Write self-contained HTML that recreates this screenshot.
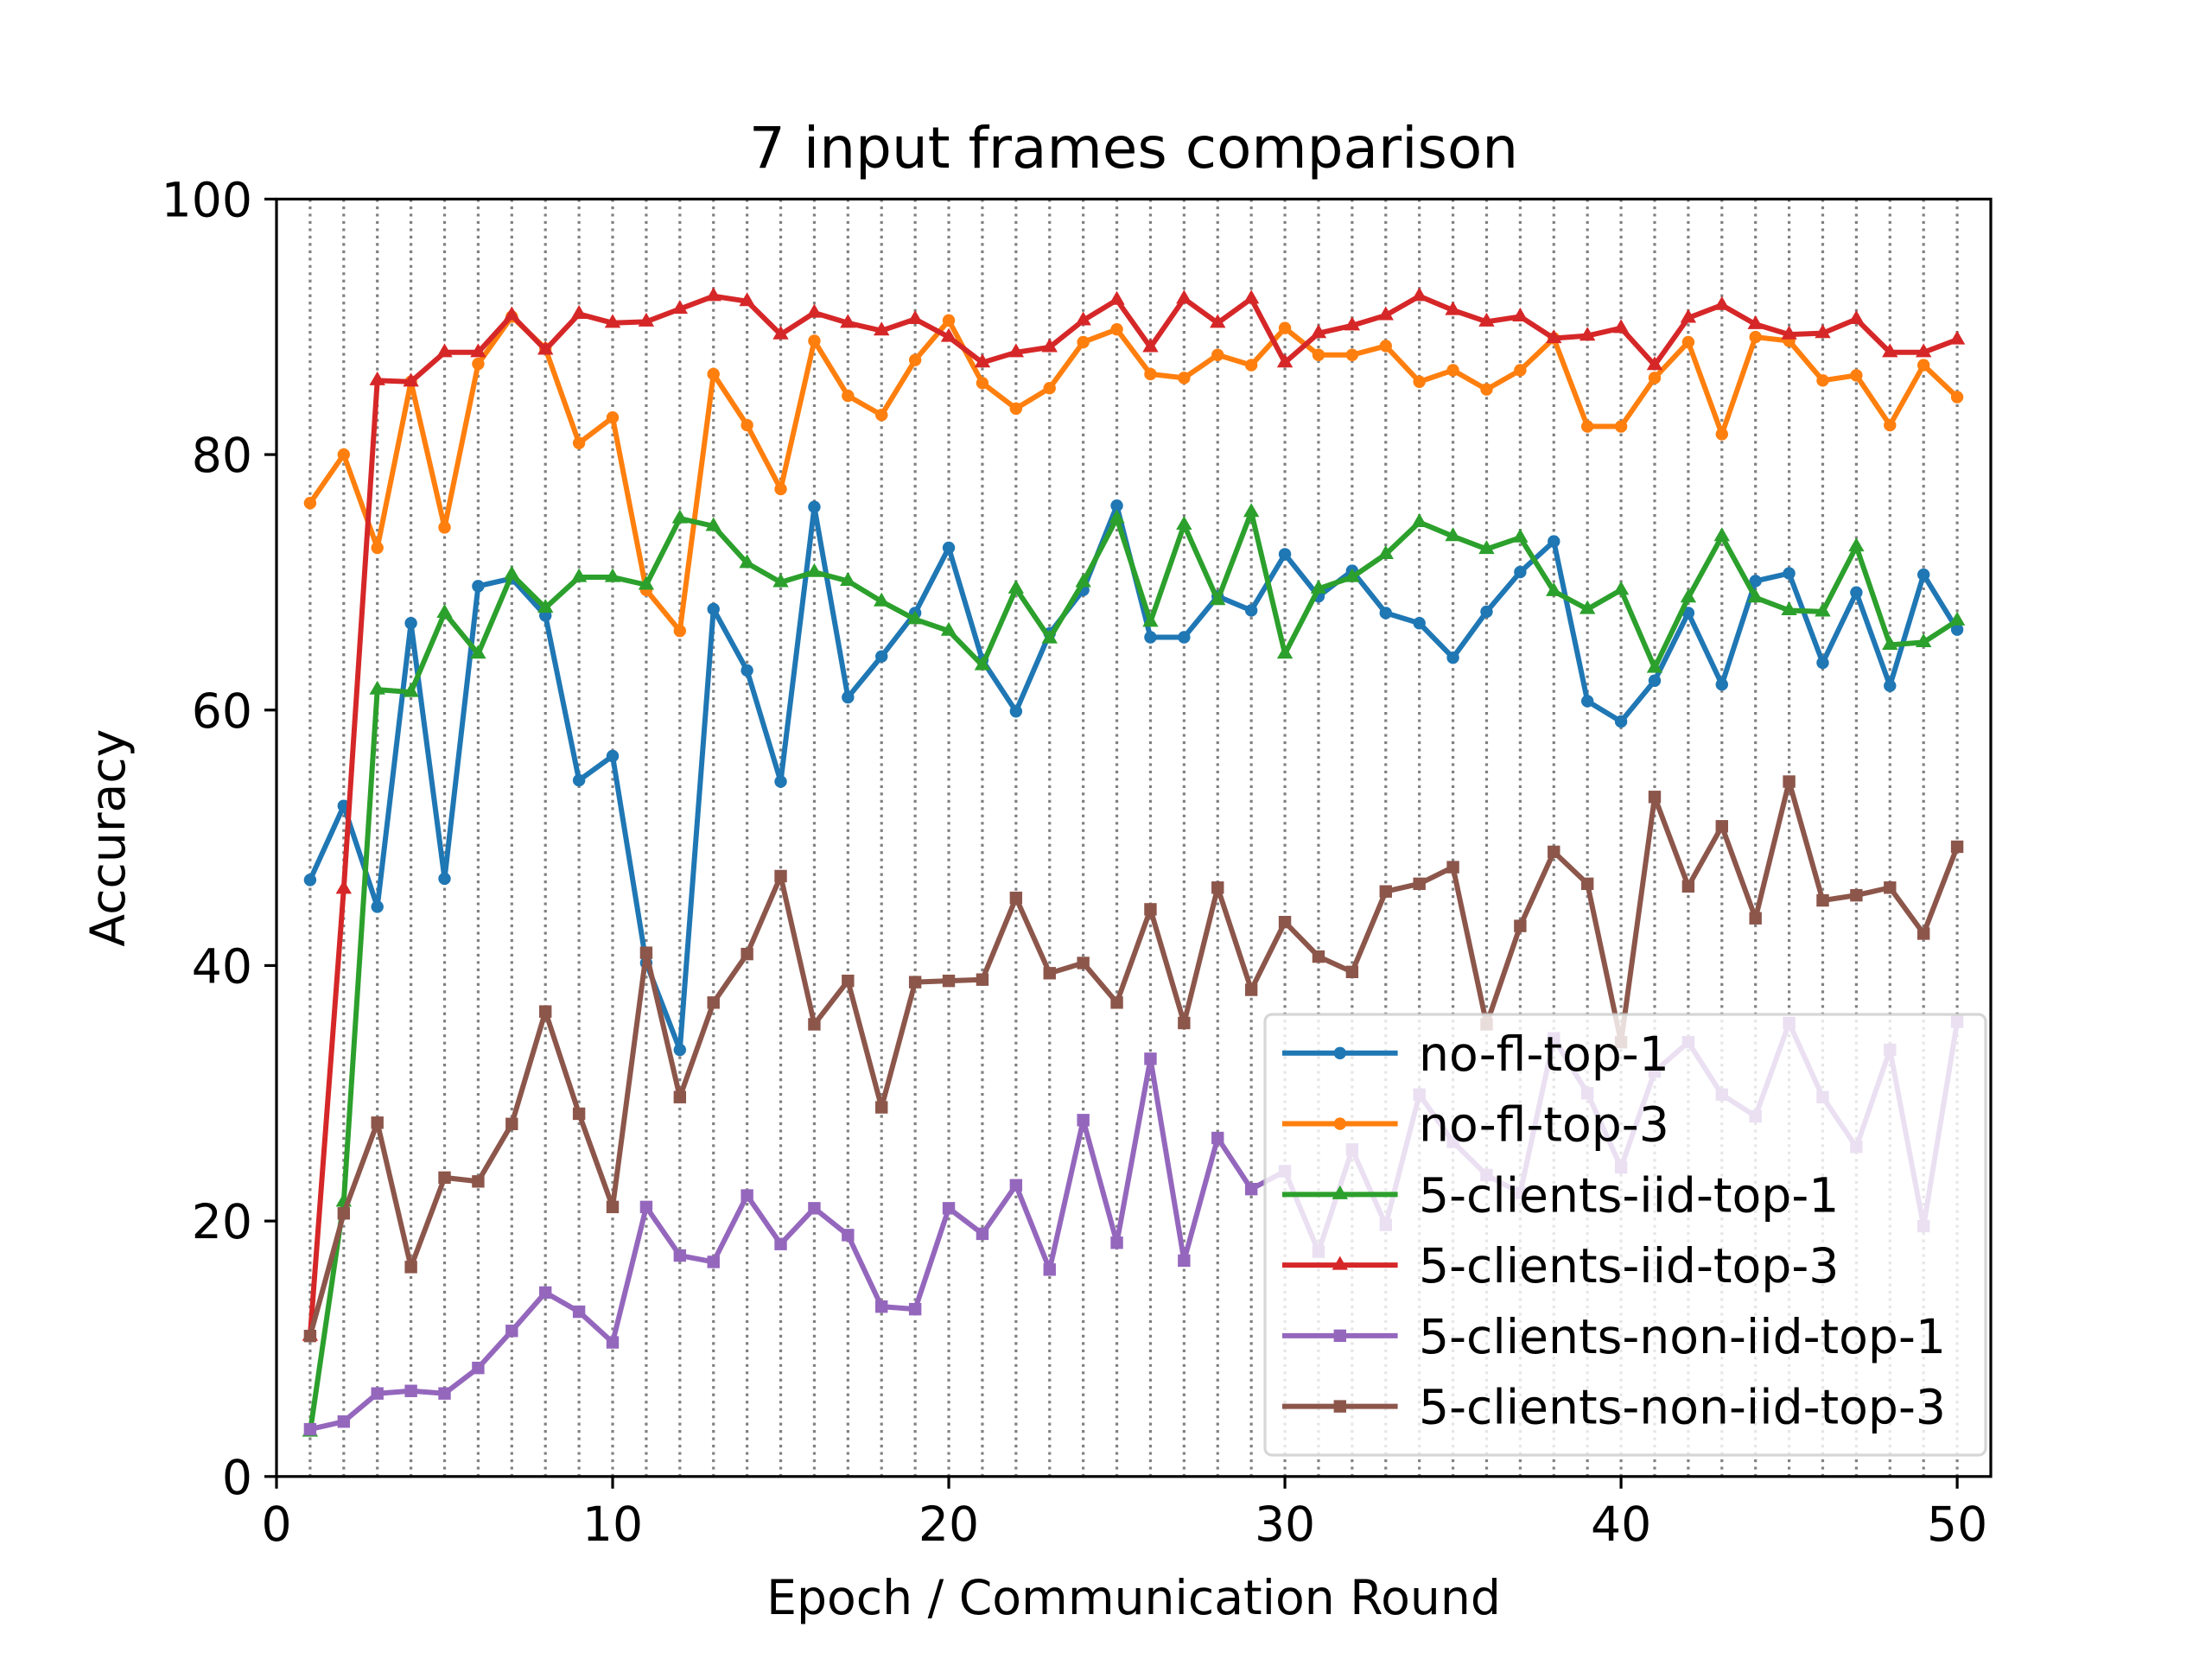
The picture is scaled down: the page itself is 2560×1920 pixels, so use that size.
<!DOCTYPE html>
<html><head><meta charset="utf-8"><style>
html,body{margin:0;padding:0;background:#fff;}
svg{display:block;font-family:"DejaVu Sans","Liberation Sans",sans-serif;}
</style></head><body>
<svg id="chart" width="2560" height="1920" viewBox="0 0 640 480" xmlns="http://www.w3.org/2000/svg">
<rect width="640" height="480" fill="#fff"/>
<g id="grid"></g>
<g id="series"></g>
<rect x="80" y="57.6" width="496" height="369.6" fill="none" stroke="#000" stroke-width="0.8"/>
<g id="ticks"></g>
<text x="328" y="48.5" font-size="16.5" text-anchor="middle">7 input frames comparison</text>
<text x="328" y="467" font-size="13.8" text-anchor="middle">Epoch / Communication Round</text>
<text x="0" y="0" font-size="13.8" text-anchor="middle" transform="translate(36,242.4) rotate(-90)">Accuracy</text>
<g id="legend"></g>
</svg>
<script>
const epochs = Array.from({length:50},(_,i)=>i+1);
const noFlTop1 = [46.7,52.5,44.6,66.8,46.8,69.7,70.3,67.4,54.5,56.4,40.2,33.4,67.9,63.1,54.4,75.9,61.0,64.2,67.6,72.7,63.9,59.9,66.0,69.4,76.0,65.7,65.7,68.9,67.8,72.2,68.9,70.9,67.6,66.8,64.1,67.7,70.8,73.2,60.7,59.1,62.3,67.6,62.0,70.1,70.7,63.7,69.2,61.9,70.6,66.3];
const noFlTop3 = [76.2,80.0,72.7,85.7,74.3,87.1,90.8,88.3,80.9,82.9,69.4,66.2,86.3,82.3,77.3,88.9,84.6,83.1,87.4,90.5,85.6,83.6,85.2,88.8,89.8,86.3,86.0,87.8,87.0,89.9,87.8,87.8,88.5,85.7,86.6,85.1,86.6,89.1,82.2,82.2,86.0,88.8,81.6,89.2,88.9,85.8,86.2,82.3,87.0,84.5];
const iidTop1 = [3.5,21.5,61.6,61.4,67.6,64.4,70.6,68.0,70.4,70.4,69.8,75.0,74.4,71.5,70.0,70.8,70.1,68.5,67.1,66.2,63.5,69.5,65.6,70.0,75.0,66.9,74.5,68.6,75.5,64.4,69.5,70.4,72.2,74.7,73.6,72.6,73.5,69.3,67.9,69.4,63.3,68.8,73.6,68.8,67.8,67.7,72.8,65.1,65.3,67.0];
const iidTop3 = [11.0,46.0,85.8,85.7,88.0,88.0,90.9,88.2,91.0,90.3,90.4,91.4,92.4,92.0,89.4,91.1,90.3,89.7,90.6,89.2,87.2,88.0,88.4,90.5,92.1,88.4,92.2,90.3,92.2,87.2,89.5,90.1,90.9,92.4,91.3,90.4,90.8,89.1,89.3,89.9,87.0,90.7,91.7,90.2,89.4,89.5,90.6,88.0,88.0,89.0];
const nonIidTop1 = [3.7,4.3,6.5,6.7,6.5,8.5,11.4,14.4,12.9,10.5,21.1,17.3,16.8,22.0,18.2,21.0,18.9,13.3,13.1,21.0,19.0,22.8,16.2,27.9,18.3,32.7,16.9,26.5,22.5,23.9,17.6,25.6,19.7,29.9,26.2,23.6,22.2,34.3,30.0,24.2,31.7,34.0,29.9,28.2,35.5,29.7,25.8,33.4,19.6,35.6];
const nonIidTop3 = [11.0,20.6,27.7,16.4,23.4,23.1,27.6,36.4,28.4,21.1,41.0,29.7,37.1,40.9,47.0,35.4,38.8,28.9,38.7,38.8,38.9,45.3,39.4,40.2,37.1,44.4,35.5,46.1,38.1,43.4,40.7,39.5,45.8,46.4,47.7,35.4,43.1,48.9,46.4,34.0,53.2,46.2,50.9,43.7,54.4,45.1,45.5,46.1,42.5,49.3];
const seriesNames = ["no-fl-top-1","no-fl-top-3","5-clients-iid-top-1","5-clients-iid-top-3","5-clients-non-iid-top-1","5-clients-non-iid-top-3"];
const seriesData = [noFlTop1,noFlTop3,iidTop1,iidTop3,nonIidTop1,nonIidTop3];
const xTicks = [0,10,20,30,40,50];
const yTicks = [0,20,40,60,80,100];

const colors = ["#1f77b4","#ff7f0e","#2ca02c","#d62728","#9467bd","#8c564b"];
const markers = ["circle","circle","tri","tri","square","square"];
const NS = "http://www.w3.org/2000/svg";
const X0=80,X1=576,Y0=427.2,Y1=57.6, XMAX=51, YMAX=100;
const sx = v => X0 + v/XMAX*(X1-X0);
const sy = v => Y0 - v/YMAX*(Y0-Y1);
function mk(tag, attrs, parent){const e=document.createElementNS(NS,tag);for(const k in attrs)e.setAttribute(k,attrs[k]);parent.appendChild(e);return e;}
function marker(type,x,y,c,parent){
  let e;
  if(type==="circle") e=mk("circle",{cx:x,cy:y,r:1.8,fill:c},parent);
  else if(type==="tri") e=mk("polygon",{points:`${x},${y-2.6} ${x-2.3},${y+1.4} ${x+2.3},${y+1.4}`,fill:c},parent);
  else e=mk("rect",{x:x-1.8,y:y-1.8,width:3.6,height:3.6,fill:c},parent);
  return e;
}
const grid=document.getElementById("grid");
epochs.forEach(ep=>{
  const l=mk("line",{x1:sx(ep),x2:sx(ep),y1:Y1,y2:Y0,stroke:"#808080","stroke-width":0.8,"stroke-dasharray":"0.8 1.32"},grid);
  
  
});
const ticks=document.getElementById("ticks");
xTicks.forEach(t=>{
  mk("line",{x1:sx(t),x2:sx(t),y1:Y0,y2:Y0+3.5,stroke:"#000","stroke-width":0.8},ticks);
  const tx=mk("text",{x:sx(t),y:Y0+18.5,"font-size":13.8,"text-anchor":"middle"},ticks);
  tx.textContent=t;
  
  
});
yTicks.forEach(t=>{
  mk("line",{x1:X0-3.5,x2:X0,y1:sy(t),y2:sy(t),stroke:"#000","stroke-width":0.8},ticks);
  const tx=mk("text",{x:X0-7,y:sy(t)+5,"font-size":13.8,"text-anchor":"end"},ticks);
  tx.textContent=t;
  
  
});
const sg=document.getElementById("series");
seriesData.forEach((d,i)=>{
  const g=mk("g",{},sg);
  
  
  const pts=d.map((v,j)=>sx(epochs[j])+","+sy(v)).join(" ");
  mk("polyline",{points:pts,fill:"none",stroke:colors[i],"stroke-width":1.5,"stroke-linejoin":"round"},g);
  d.forEach((v,j)=>{
    const m=marker(markers[i],sx(epochs[j]),sy(v),colors[i],g);
    
    
  });
});
const lg=document.getElementById("legend");
mk("rect",{x:366,y:293.5,width:208.5,height:127.5,rx:2,fill:"#fff","fill-opacity":0.8,stroke:"#cccccc","stroke-opacity":0.8,"stroke-width":0.8},lg);
seriesNames.forEach((n,i)=>{
  const y=304.7+i*20.44;
  const g=mk("g",{},lg);
  
  
  mk("line",{x1:371,x2:404.4,y1:y,y2:y,stroke:colors[i],"stroke-width":1.5},g);
  marker(markers[i],387.7,y,colors[i],g);
  const t=mk("text",{x:410.5,y:y+5,"font-size":13.8},g);
  t.textContent=n;
});
</script>
</body></html>
